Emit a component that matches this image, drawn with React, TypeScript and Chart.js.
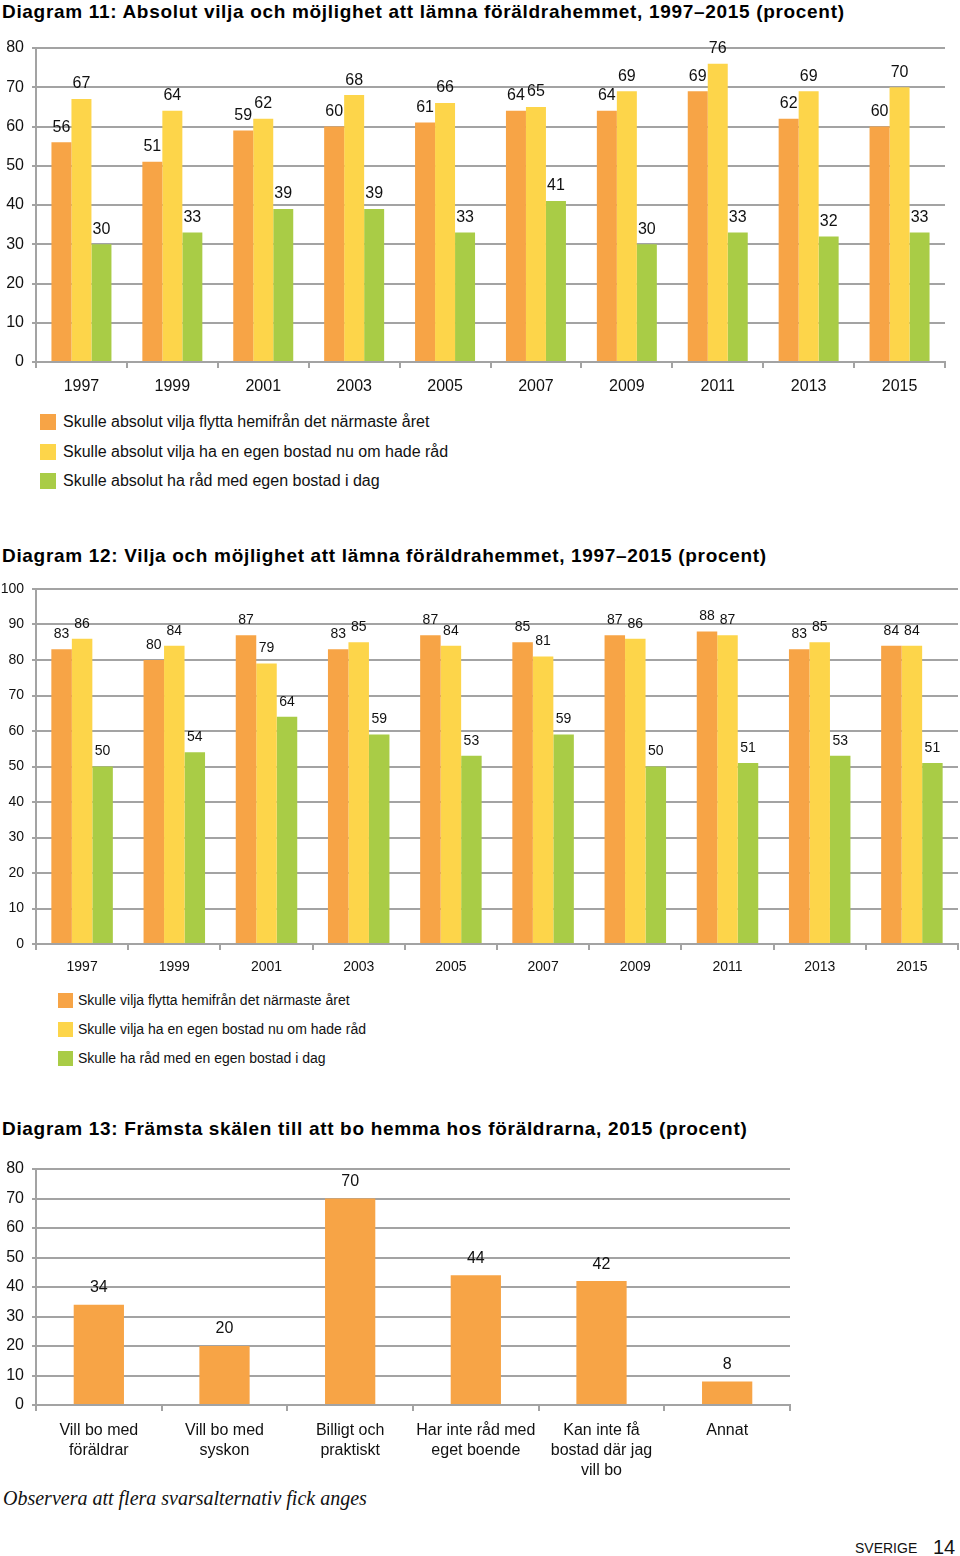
import React, { useEffect, useRef } from "react";
import { Chart, registerables } from "chart.js";

Chart.register(...registerables);

// ---------- Data ----------
const years = ["1997", "1999", "2001", "2003", "2005", "2007", "2009", "2011", "2013", "2015"];

const d11Labels = [
  "Skulle absolut vilja flytta hemifrån det närmaste året",
  "Skulle absolut vilja ha en egen bostad nu om hade råd",
  "Skulle absolut ha råd med egen bostad i dag",
];
const d11Move = [56, 51, 59, 60, 61, 64, 64, 69, 62, 60];
const d11Own = [67, 64, 62, 68, 66, 65, 69, 76, 69, 70];
const d11Afford = [30, 33, 39, 39, 33, 41, 30, 33, 32, 33];

const d12Labels = [
  "Skulle vilja flytta hemifrån det närmaste året",
  "Skulle vilja ha en egen bostad nu om hade råd",
  "Skulle ha råd med en egen bostad i dag",
];
const d12Move = [83, 80, 87, 83, 87, 85, 87, 88, 83, 84];
const d12Own = [86, 84, 79, 85, 84, 81, 86, 87, 85, 84];
const d12Afford = [50, 54, 64, 59, 53, 59, 50, 51, 53, 51];

const d13Categories = [
  ["Vill bo med", "föräldrar"],
  ["Vill bo med", "syskon"],
  ["Billigt och", "praktiskt"],
  ["Har inte råd med", "eget boende"],
  ["Kan inte få", "bostad där jag", "vill bo"],
  ["Annat"],
];
const d13Values = [34, 20, 70, 44, 42, 8];

const title11 = "Diagram 11: Absolut vilja och möjlighet att lämna föräldrahemmet, 1997–2015 (procent)";
const title12 = "Diagram 12: Vilja och möjlighet att lämna föräldrahemmet, 1997–2015 (procent)";
const title13 = "Diagram 13: Främsta skälen till att bo hemma hos föräldrarna, 2015 (procent)";
const footNote = "Observera att flera svarsalternativ fick anges";

const ORANGE = "#F7A446";
const YELLOW = "#FDD54A";
const GREEN = "#A9CC46";
const seriesColors = [ORANGE, YELLOW, GREEN];
const GRID = "#a3a3a3";
const FONT = "'Liberation Sans', Arial, sans-serif";

const valueLabels = {
  id: "valueLabels",
  afterDatasetsDraw(chart: any, _args: any, opts: any) {
    const ctx = chart.ctx;
    ctx.save();
    ctx.font = opts.font;
    ctx.fillStyle = opts.color || "#111";
    ctx.textAlign = "center";
    ctx.textBaseline = "middle";
    chart.data.datasets.forEach((ds: any, di: number) => {
      const meta = chart.getDatasetMeta(di);
      meta.data.forEach((bar: any, i: number) => {
        ctx.fillText(String(ds.data[i]), bar.x, bar.y - opts.offset);
      });
    });
    ctx.restore();
  },
};

type BarProps = {
  top: number;
  height: number;
  labels: any[];
  datasets: { label: string; data: number[]; color: string }[];
  max: number;
  padTop: number;
  padRight: number;
  xHeight: number;
  tickFont: number;
  xFont: number;
  valueFont: number;
  valueOffset: number;
  catPct: number;
  xPad: number;
};

function BarChart(p: BarProps) {
  const ref = useRef<HTMLCanvasElement>(null);
  useEffect(() => {
    const chart = new Chart(ref.current as HTMLCanvasElement, {
      type: "bar",
      data: {
        labels: p.labels,
        datasets: p.datasets.map((d) => ({
          label: d.label,
          data: d.data,
          backgroundColor: d.color,
          borderWidth: 0,
        })),
      },
      options: {
        animation: false,
        responsive: false,
        maintainAspectRatio: false,
        layout: { padding: { top: p.padTop, right: p.padRight, left: 0, bottom: 0 } },
        datasets: { bar: { categoryPercentage: p.catPct, barPercentage: 1 } },
        plugins: {
          legend: { display: false },
          tooltip: { enabled: false },
          valueLabels: { font: `${p.valueFont}px ${FONT}`, offset: p.valueOffset, color: "#111" },
        } as any,
        scales: {
          x: {
            grid: { display: true, drawOnChartArea: false, drawTicks: true, tickLength: 6, color: GRID, lineWidth: 2, offset: true },
            border: { display: true, color: GRID, width: 2 },
            ticks: { color: "#111", font: { family: FONT, size: p.xFont, lineHeight: 1.25 }, padding: p.xPad, maxRotation: 0, autoSkip: false },
            afterFit: (s: any) => { s.height = p.xHeight; },
          },
          y: {
            min: 0,
            max: p.max,
            ticks: { stepSize: 10, color: "#111", font: { family: FONT, size: p.tickFont }, padding: 8 },
            grid: { color: GRID, lineWidth: 2, drawTicks: true, tickLength: 4 },
            border: { display: true, color: GRID, width: 2 },
            afterFit: (s: any) => { s.width = 36; },
          },
        },
      },
      plugins: [valueLabels as any],
    });
    return () => chart.destroy();
  }, []);
  return (
    <canvas
      ref={ref}
      width={960}
      height={p.height}
      style={{ position: "absolute", left: 0, top: p.top, width: 960, height: p.height }}
    />
  );
}

function Legend({ top, left, labels, size, box, gap, textLeft }: any) {
  return (
    <div style={{ position: "absolute", top, left }}>
      {labels.map((l: string, i: number) => (
        <div key={i} style={{ position: "absolute", top: i * gap, left: 0, height: box, width: 700 }}>
          <div style={{ position: "absolute", left: 0, top: 0, width: box, height: box, background: seriesColors[i] }} />
          <div
            style={{
              position: "absolute",
              left: textLeft,
              top: box / 2 - size * 0.6,
              font: `${size}px ${FONT}`,
              lineHeight: `${size * 1.2}px`,
              color: "#111",
              whiteSpace: "nowrap",
            }}
          >
            {l}
          </div>
        </div>
      ))}
    </div>
  );
}

function Title({ top, text }: any) {
  return (
    <div
      style={{
        position: "absolute",
        left: 2,
        top,
        font: `bold 19px ${FONT}`,
        letterSpacing: "0.68px",
        lineHeight: "22px",
        color: "#000",
        whiteSpace: "nowrap",
      }}
    >
      {text}
    </div>
  );
}

export default function App() {
  return (
    <div style={{ position: "absolute", left: 0, top: 0, width: 960, height: 1556, background: "#fff", overflow: "hidden" }}>
      <Title top={1} text={title11} />
      <BarChart
        top={30}
        height={372}
        labels={years}
        datasets={[
          { label: d11Labels[0], data: d11Move, color: ORANGE },
          { label: d11Labels[1], data: d11Own, color: YELLOW },
          { label: d11Labels[2], data: d11Afford, color: GREEN },
        ]}
        max={80}
        padTop={18}
        padRight={15}
        xHeight={40}
        tickFont={16}
        xFont={16}
        valueFont={16}
        valueOffset={15}
        catPct={0.66}
        xPad={9}
      />
      <Legend top={414} left={40} labels={d11Labels} size={16} box={16} gap={29.5} textLeft={23} />

      <Title top={545} text={title12} />
      <BarChart
        top={572}
        height={408}
        labels={years}
        datasets={[
          { label: d12Labels[0], data: d12Move, color: ORANGE },
          { label: d12Labels[1], data: d12Own, color: YELLOW },
          { label: d12Labels[2], data: d12Afford, color: GREEN },
        ]}
        max={100}
        padTop={17}
        padRight={2}
        xHeight={36}
        tickFont={14}
        xFont={14}
        valueFont={14}
        valueOffset={15}
        catPct={0.667}
        xPad={8}
      />
      <Legend top={993} left={58} labels={d12Labels} size={14} box={15} gap={29} textLeft={20} />

      <Title top={1118} text={title13} />
      <BarChart
        top={1150}
        height={330}
        labels={d13Categories}
        datasets={[{ label: "Procent", data: d13Values, color: ORANGE }]}
        max={80}
        padTop={19}
        padRight={170}
        xHeight={75}
        tickFont={16}
        xFont={16}
        valueFont={16}
        valueOffset={17}
        catPct={0.4}
        xPad={10}
      />
      <div
        style={{
          position: "absolute",
          left: 3,
          top: 1485,
          font: `italic 20px 'Liberation Serif', 'DejaVu Serif', serif`,
          lineHeight: "26px",
          color: "#111",
          whiteSpace: "nowrap",
        }}
      >
        {footNote}
      </div>
      <div style={{ position: "absolute", left: 855, top: 1538, font: `14px ${FONT}`, lineHeight: "20px", color: "#111" }}>SVERIGE</div>
      <div style={{ position: "absolute", left: 933, top: 1535, font: `20px ${FONT}`, lineHeight: "24px", color: "#111" }}>14</div>
    </div>
  );
}
